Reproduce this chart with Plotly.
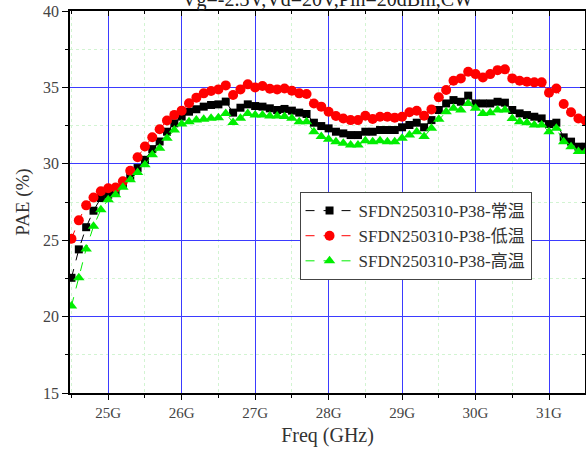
import plotly.graph_objects as go

freq = [24.5, 24.6, 24.7, 24.8, 24.9, 25.0, 25.1, 25.2, 25.3, 25.4,
        25.5, 25.6, 25.7, 25.8, 25.9, 26.0, 26.1, 26.2, 26.3, 26.4,
        26.5, 26.6, 26.7, 26.8, 26.9, 27.0, 27.1, 27.2, 27.3, 27.4,
        27.5, 27.6, 27.7, 27.8, 27.9, 28.0, 28.1, 28.2, 28.3, 28.4,
        28.5, 28.6, 28.7, 28.8, 28.9, 29.0, 29.1, 29.2, 29.3, 29.4,
        29.5, 29.6, 29.7, 29.8, 29.9, 30.0, 30.1, 30.2, 30.3, 30.4,
        30.5, 30.6, 30.7, 30.8, 30.9, 31.0, 31.1, 31.2, 31.3, 31.4, 31.5]

pae_normal = [22.54, 24.40, 25.85, 26.93, 27.76, 27.98, 28.20, 28.63, 29.17, 29.72,
              30.26, 30.96, 31.46, 32.10, 32.65, 33.09, 33.41, 33.57, 33.74, 33.85,
              33.89, 34.07, 33.35, 33.67, 33.89, 33.78, 33.74, 33.63, 33.52, 33.59,
              33.48, 33.35, 33.26, 32.69, 32.47, 32.32, 32.10, 31.99, 31.88, 31.88,
              32.10, 32.10, 32.21, 32.21, 32.21, 32.39, 32.54, 32.69, 32.39, 32.86,
              33.52, 33.95, 34.17, 34.06, 34.46, 33.95, 33.95, 33.95, 34.06, 34.00,
              33.52, 33.30, 33.19, 33.08, 32.97, 32.60, 32.69, 31.73, 31.45, 31.12, 31.12]

pae_low = [25.09, 26.30, 27.28, 27.80, 28.20, 28.40, 28.45, 28.85, 29.55, 30.43,
           31.13, 31.74, 32.26, 32.83, 33.20, 33.48, 33.96, 34.33, 34.61, 34.76,
           34.87, 35.13, 34.50, 34.87, 35.20, 35.00, 35.09, 34.91, 34.87, 34.93,
           34.78, 34.61, 34.57, 33.95, 33.74, 33.41, 33.13, 32.97, 32.86, 32.86,
           33.15, 32.93, 33.08, 33.08, 33.02, 33.08, 33.37, 33.47, 33.15, 33.56,
           34.35, 34.83, 35.44, 35.59, 36.02, 35.87, 35.65, 35.87, 36.13, 36.18,
           35.59, 35.44, 35.37, 35.33, 35.33, 34.65, 34.93, 33.91, 33.37, 32.97, 32.82]

pae_high = [20.70, 22.54, 24.43, 25.91, 27.00, 27.65, 27.98, 28.46, 28.96, 29.43,
            29.93, 30.59, 31.02, 31.67, 32.22, 32.61, 32.76, 32.87, 32.91, 32.98,
            33.02, 33.30, 32.70, 32.98, 33.30, 33.20, 33.20, 33.13, 33.13, 33.09,
            32.98, 32.76, 32.76, 32.10, 31.78, 31.60, 31.45, 31.34, 31.23, 31.23,
            31.51, 31.45, 31.51, 31.45, 31.45, 31.67, 31.89, 32.10, 31.78, 32.32,
            32.91, 33.41, 33.63, 33.52, 33.95, 33.63, 33.30, 33.34, 33.52, 33.52,
            32.97, 32.76, 32.69, 32.54, 32.54, 32.10, 32.32, 31.45, 31.12, 30.80, 30.80]

series_names = ["SFDN250310-P38-常温", "SFDN250310-P38-低温", "SFDN250310-P38-高温"]
x_tick_vals = [25, 26, 27, 28, 29, 30, 31]
x_tick_text = ["25G", "26G", "27G", "28G", "29G", "30G", "31G"]
x_minor_vals = [24.5, 25.5, 26.5, 27.5, 28.5, 29.5, 30.5, 31.5]
y_tick_vals = [15, 20, 25, 30, 35, 40]
y_minor_vals = [17.5, 22.5, 27.5, 32.5, 37.5]
title_text = "Vg=-2.3V,Vd=20V,Pin=20dBm,CW"

XR = [24.48, 31.49]
YR = [15, 40]

SERIF = "Liberation Serif, Noto Sans CJK SC, serif"

fig = go.Figure()
styles = [
    ("black", "square", 8),
    ("#ff0000", "circle", 10),
    ("#00ee00", "triangle-up", 10),
]
for name, vals, (col, sym, sz) in zip(series_names, [pae_normal, pae_low, pae_high], styles):
    fig.add_trace(go.Scatter(
        x=freq, y=vals, name=name, mode="lines+markers",
        line=dict(color=col, width=1, dash="dash"),
        marker=dict(color=col, symbol=sym, size=sz, line=dict(width=0)),
    ))

# empty trace to activate the mirrored axes
fig.add_trace(go.Scatter(x=[], y=[], xaxis="x2", yaxis="y2", showlegend=False, hoverinfo="skip"))

axis_common = dict(showline=True, linecolor="black", linewidth=1.5, zeroline=False,
                   tickcolor="black", tickwidth=1.2)

fig.update_layout(
    width=586, height=452,
    margin=dict(l=70, r=1, t=11, b=59),
    paper_bgcolor="white", plot_bgcolor="white",
    showlegend=True,
    xaxis=dict(
        range=XR, tickmode="array", tickvals=x_tick_vals, ticktext=x_tick_text,
        ticks="outside", ticklen=5,
        showgrid=True, gridcolor="#3b3bff", gridwidth=1,
        tickfont=dict(family=SERIF, size=15, color="#444"),
        title=dict(text="Freq (GHz)", font=dict(family=SERIF, size=20, color="#333"), standoff=8),
        minor=dict(tickmode="array", tickvals=x_minor_vals, ticks="outside", ticklen=3,
                   tickcolor="black", showgrid=True, gridcolor="#d2f4d2", griddash="dot", gridwidth=1),
        **axis_common,
    ),
    yaxis=dict(
        range=YR, tickmode="array", tickvals=y_tick_vals,
        ticks="outside", ticklen=6,
        showgrid=True, gridcolor="#3b3bff", gridwidth=1,
        tickfont=dict(family=SERIF, size=16, color="#444"),
        title=dict(text="PAE (%)", font=dict(family=SERIF, size=19, color="#333"), standoff=8),
        minor=dict(tickmode="array", tickvals=y_minor_vals, ticks="outside", ticklen=3,
                   tickcolor="black", showgrid=True, gridcolor="#d2f4d2", griddash="dot", gridwidth=1),
        **axis_common,
    ),
    xaxis2=dict(
        range=XR, overlaying="x", side="top", anchor="y", tickmode="array", tickvals=x_tick_vals,
        ticks="inside", ticklen=5, showticklabels=False, showgrid=False,
        minor=dict(tickmode="array", tickvals=x_minor_vals, ticks="inside", ticklen=3, tickcolor="black"),
        **axis_common,
    ),
    yaxis2=dict(
        range=YR, overlaying="y", side="right", anchor="x", tickmode="array", tickvals=y_tick_vals,
        ticks="inside", ticklen=5, showticklabels=False, showgrid=False,
        minor=dict(tickmode="array", tickvals=y_minor_vals, ticks="inside", ticklen=3, tickcolor="black"),
        **axis_common,
    ),
    legend=dict(
        x=0.4457, y=0.526, xanchor="left", yanchor="top",
        bgcolor="white", bordercolor="#444", borderwidth=1,
        font=dict(family=SERIF, size=17, color="#333"),
        itemwidth=48, tracegroupgap=0,
    ),
    annotations=[dict(
        text=title_text, xref="paper", yref="paper", x=0.5, y=1,
        xanchor="center", yanchor="bottom", yshift=-2, showarrow=False,
        font=dict(family=SERIF, size=20, color="#222"),
    )],
)

fig.write_html("out.html")
